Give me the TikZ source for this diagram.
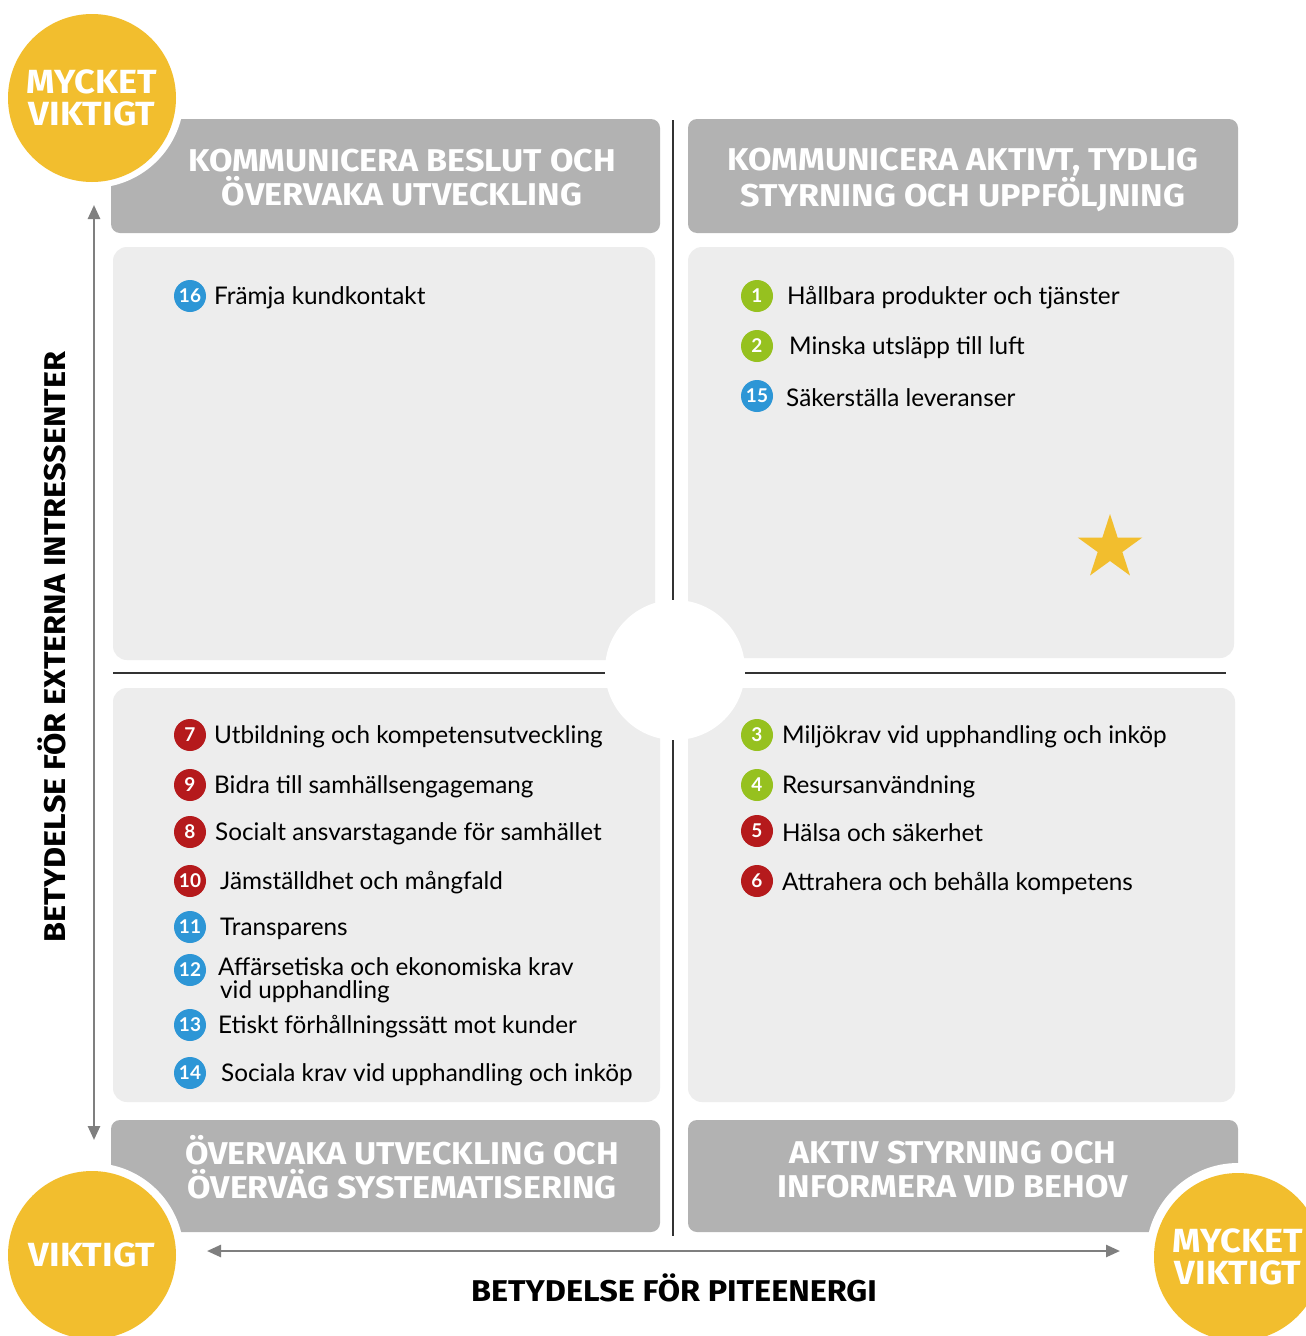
\documentclass[tikz,border=0pt]{standalone}
\usepackage{fontspec}
\setmainfont{Lato}
\newfontfamily\headfont{Fira Sans}[FakeStretch=1.08]
\usetikzlibrary{arrows.meta,shapes.geometric}
\definecolor{ygold}{HTML}{F2BE2E}
\definecolor{hgray}{HTML}{B2B2B2}
\definecolor{boxgray}{HTML}{EDEDED}
\definecolor{bgreen}{HTML}{96C11F}
\definecolor{bblue}{HTML}{2D96D6}
\definecolor{bred}{HTML}{B51A1C}
\definecolor{agray}{HTML}{7F7F7F}
\definecolor{lgray}{HTML}{333333}
\tikzset{
  header/.style={fill=hgray, rounded corners=9pt},
  content/.style={fill=boxgray, rounded corners=14pt},
  headtext/.style={text=white, align=center, inner sep=0pt, font=\headfont\bfseries\fontsize{31.5}{34}\selectfont},
  badge/.style={circle, minimum size=32pt, inner sep=0pt, text=white, font=\bfseries\fontsize{19}{19}\selectfont},
  itemtext/.style={anchor=west, inner sep=0pt, text=black, font=\fontsize{24.3}{23}\selectfont},
  yellowdot/.style={circle, fill=ygold, minimum size=168pt, inner sep=0pt, text=white, align=center, font=\headfont\bfseries\fontsize{33.5}{32}\selectfont},
  whitering/.style={circle, fill=white, minimum size=184pt, inner sep=0pt},
  axislabel/.style={inner sep=0pt, text=black, font=\headfont\bfseries\fontsize{30}{30}\selectfont},
  axisarrow/.style={draw=agray, line width=2.5pt, {Triangle[length=14pt,width=12pt]}-{Triangle[length=14pt,width=12pt]}},
  divider/.style={draw=lgray, line width=1.5pt}
}
\begin{document}
\begin{tikzpicture}[x=1pt,y=-1pt]
\useasboundingbox (0,0) rectangle (1306,1336);
\fill[white] (0,0) rectangle (1306,1336);

% content boxes
\fill[content] (113,247) rectangle (655,660);
\fill[content] (688,247) rectangle (1234,658);
\fill[content] (113,688) rectangle (660,1102);
\fill[content] (688,688) rectangle (1235,1102);

% headers
\fill[header] (111,119) rectangle (660,233);
\fill[header] (688,119) rectangle (1238,233);
\fill[header] (111,1120) rectangle (660,1232);
\fill[header] (688,1120) rectangle (1238,1232);

\node[headtext] (htl) at (402,178) {KOMMUNICERA BESLUT OCH\\ÖVERVAKA UTVECKLING};
\node[headtext] (htr) at (963,180) {KOMMUNICERA AKTIVT, TYDLIG\\STYRNING OCH UPPFÖLJNING};
\node[headtext] (hbl) at (402,1167) {ÖVERVAKA UTVECKLING OCH\\ÖVERVÄG SYSTEMATISERING};
\node[headtext] (hbr) at (953,1170) {AKTIV STYRNING OCH\\INFORMERA VID BEHOV};

% dividers
\coordinate (vtop) at (673,120);
\coordinate (vbot) at (673,1236);
\coordinate (hl) at (113,673);
\coordinate (hr) at (1226,673);
\draw[divider] (vtop) -- (vbot);
\draw[divider] (hl) -- (hr);

% central white circle
\node[circle, fill=white, minimum size=140pt, inner sep=0pt] (center) at (675,670) {};

% yellow circles
\node[whitering] (ring1) at (92,96) {};
\node[yellowdot] (mv1) at (92,98) {MYCKET\\VIKTIGT};
\node[whitering] (ring2) at (92,1255) {};
\node[yellowdot] (v2) at (92,1255) {VIKTIGT};
\node[whitering] (ring3) at (1238,1255) {};
\node[yellowdot] (mv3) at (1238,1257) {MYCKET\\VIKTIGT};

% axes
\coordinate (yA) at (94,205);
\coordinate (yB) at (94,1140);
\draw[axisarrow] (yA) -- (yB);
\coordinate (xA) at (207,1251);
\coordinate (xB) at (1120,1251);
\draw[axisarrow] (xA) -- (xB);
\node[axislabel, rotate=90] (ylab) at (52,647) {BETYDELSE FÖR EXTERNA INTRESSENTER};
\node[axislabel] (xlab) at (674,1288) {BETYDELSE FÖR PITEENERGI};

% star
\node[star, star points=5, star point ratio=2.618, fill=ygold, minimum size=68pt, inner sep=0pt] (star) at (1110,548) {};

% TL items
\node[badge, fill=bblue] (b16) at (190,296) {16};
\node[itemtext] (t16) at (214,298) {Främja kundkontakt};

% TR items
\node[badge, fill=bgreen] (b1) at (757,296) {1};
\node[itemtext] (t1) at (787,298) {Hållbara produkter och tjänster};
\node[badge, fill=bgreen] (b2) at (757,346) {2};
\node[itemtext] (t2) at (789,348) {Minska utsläpp till luft};
\node[badge, fill=bblue] (b15) at (757,396) {15};
\node[itemtext] (t15) at (786,398) {Säkerställa leveranser};

% BL items
\node[badge, fill=bred] (b7) at (190,735) {7};
\node[itemtext] (t7) at (214,737) {Utbildning och kompetensutveckling};
\node[badge, fill=bred] (b9) at (190,785) {9};
\node[itemtext] (t9) at (214,787) {Bidra till samhällsengagemang};
\node[badge, fill=bred] (b8) at (190,832) {8};
\node[itemtext] (t8) at (215,834) {Socialt ansvarstagande för samhället};
\node[badge, fill=bred] (b10) at (190,881) {10};
\node[itemtext] (t10) at (220,883) {Jämställdhet och mångfald};
\node[badge, fill=bblue] (b11) at (190,927) {11};
\node[itemtext] (t11) at (220,929) {Transparens};
\node[badge, fill=bblue] (b12) at (190,970) {12};
\node[itemtext, align=left, anchor=north west] (t12) at (218,957) {Affärsetiska och ekonomiska krav\\\hspace*{2pt}vid upphandling};
\node[badge, fill=bblue] (b13) at (190,1025) {13};
\node[itemtext] (t13) at (218,1027) {Etiskt förhållningssätt mot kunder};
\node[badge, fill=bblue] (b14) at (190,1073) {14};
\node[itemtext] (t14) at (221,1075) {Sociala krav vid upphandling och inköp};

% BR items
\node[badge, fill=bgreen] (b3) at (757,735) {3};
\node[itemtext] (t3) at (782,737) {Miljökrav vid upphandling och inköp};
\node[badge, fill=bgreen] (b4) at (757,785) {4};
\node[itemtext] (t4) at (782,787) {Resursanvändning};
\node[badge, fill=bred] (b5) at (757,831) {5};
\node[itemtext] (t5) at (782,833) {Hälsa och säkerhet};
\node[badge, fill=bred] (b6) at (757,881) {6};
\node[itemtext] (t6) at (782,883) {Attrahera och behålla kompetens};
\end{tikzpicture}
\end{document}
